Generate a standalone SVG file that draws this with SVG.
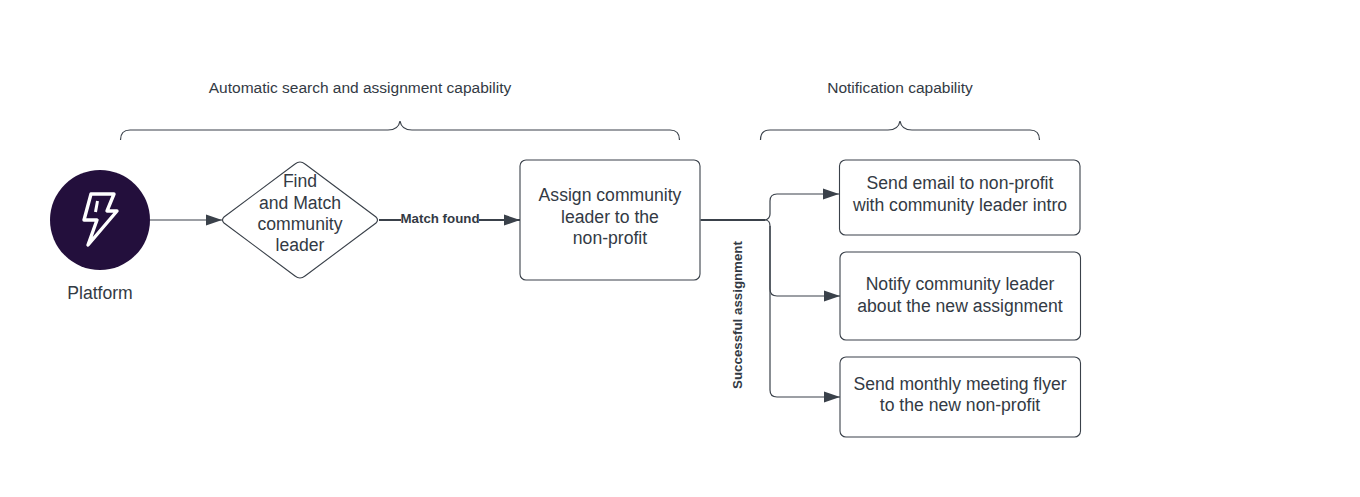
<svg xmlns="http://www.w3.org/2000/svg" width="1360" height="497" viewBox="0 0 1360 497">
<style>
text{font-family:"Liberation Sans",Arial,sans-serif;fill:#333a44;text-anchor:middle}
.t{font-size:17.600px}
.h{font-size:15.500px}
.b{font-size:13.300px;font-weight:bold}
.box{fill:#fff;stroke:#3a414a;stroke-width:1.100}
.c{fill:none;stroke:#3a414a;stroke-width:1.200}
.c2{fill:none;stroke:#3a414a;stroke-width:2}
.br{fill:none;stroke:#3a414a;stroke-width:1.200}
</style>
<defs>
<marker id="a" markerUnits="userSpaceOnUse" markerWidth="18" markerHeight="12" refX="16" refY="6" orient="auto">
<path d="M0 0.500L16 6L0 11.500Z" fill="#3a414a"/>
</marker>
</defs>
<rect width="1360" height="497" fill="#fff"/>
<g id="connectors">
<path class="c" d="M150 220H222" marker-end="url(#a)"/>
<path class="c2" d="M379 220H520" marker-end="url(#a)"/>
<path class="c2" d="M700.500 220H765"/>
<path class="c" d="M765 220C769 219 770 217 770 214V201Q770 194 777 194H839" marker-end="url(#a)"/>
<path class="c" d="M765 220C769 220 770 222 770 226V289Q770 296 777 296H840" marker-end="url(#a)"/>
<path class="c" d="M770 226V390Q770 397 777 397H840" marker-end="url(#a)"/>
</g>
<g id="bracket-search"><path class="br" d="M120.500 140Q120.500 130 130 130H388C395 130 399 127 400 121C401 127 405 130 412 130H670Q679.500 130 679.500 140"/>
<text class="h" x="360" y="93">Automatic search and assignment capability</text></g>
<g id="bracket-notify"><path class="br" d="M760.500 140Q760.500 130 770 130H888C895 130 899 127 900 121C901 127 905 130 912 130H1030Q1039.500 130 1039.500 140"/>
<text class="h" x="900" y="93">Notification capability</text></g>
<g id="platform">
<circle cx="100" cy="220" r="50" fill="#230f3c"/>
<path d="M91 194H114L107 211H117L88 245L97 220H84Z" fill="none" stroke="#fff" stroke-width="3.400" stroke-linejoin="round"/>
<path d="M97.500 201L95.500 212" fill="none" stroke="#fff" stroke-width="3"/>
<text class="t" x="100" y="299">Platform</text>
</g>
<g id="find-match">
<path class="box" d="M224 223Q221 220 224 217L295 164Q300 160 305 164L376 217Q379 220 376 223L305 276Q300 280 295 276Z"/>
<text class="t"><tspan x="300" y="187">Find</tspan><tspan x="300" y="208.500">and Match</tspan><tspan x="300" y="230">community</tspan><tspan x="300" y="251">leader</tspan></text>
</g>
<g id="assign">
<rect class="box" x="520" y="160" width="180" height="120" rx="6"/>
<text class="t"><tspan x="610" y="201">Assign community</tspan><tspan x="610" y="222.500">leader to the</tspan><tspan x="610" y="244">non-profit</tspan></text>
</g>
<g id="send-email">
<rect class="box" x="839.500" y="160" width="240.500" height="75" rx="6"/>
<text class="t"><tspan x="960" y="189">Send email to non-profit</tspan><tspan x="960" y="211">with community leader intro</tspan></text>
</g>
<g id="notify-leader">
<rect class="box" x="840" y="252" width="240.500" height="88" rx="6"/>
<text class="t"><tspan x="960" y="290">Notify community leader</tspan><tspan x="960" y="311.500">about the new assignment</tspan></text>
</g>
<g id="send-flyer">
<rect class="box" x="840" y="357" width="240.500" height="80" rx="6"/>
<text class="t"><tspan x="960" y="390">Send monthly meeting flyer</tspan><tspan x="960" y="411">to the new non-profit</tspan></text>
</g>
<g id="labels">
<rect x="401" y="212" width="78" height="14" fill="#fff"/>
<text class="b" x="440" y="223">Match found</text>
<text class="b" transform="translate(742 315) rotate(-90)">Successful assignment</text>
</g>
</svg>
